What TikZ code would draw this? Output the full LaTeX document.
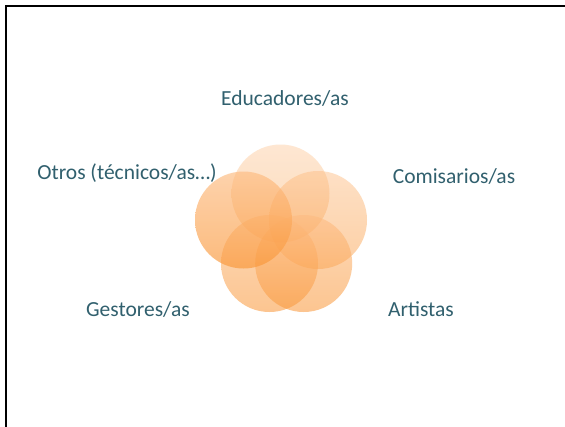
\documentclass[tikz,border=0pt]{standalone}
\usepackage{fontspec}
\setmainfont{Carlito}
\usepackage{tikz}
\usetikzlibrary{positioning}
\usepackage{xcolor}
\definecolor{labelteal}{HTML}{31606E}
\definecolor{petaltop}{HTML}{FDBB80}
\definecolor{petalbot}{HTML}{FA9636}
\tikzset{
  lab/.style={text=labelteal, font=\fontsize{21.5}{24}\selectfont, inner sep=0pt},
  petal/.style={top color=petaltop, bottom color=petalbot, fill opacity=#1, draw=none}
}

\begin{document}
\begin{tikzpicture}[x=1pt,y=-1pt]
\useasboundingbox (0,0) rectangle (565,426);
\fill[white] (0,0) rectangle (565,426);
% frame, cut by the page on the right and bottom
\draw[line width=2pt] (6,440)--(6,6)--(580,6);
% the five circles
\shade[petal=.35] (280.5,193.5) circle(49);
\shade[petal=.45] (318,220) circle(49);
\shade[petal=.55] (303.7,263.5) circle(48.5);
\shade[petal=.55] (269.5,263.5) circle(48.5);
\shade[petal=.65] (243.5,220) circle(48.5);
% labels
\node[lab] (edu) at (285,98) {Educadores/as};
\node[lab] (otr) at (127,173) {Otros (técnicos/as…)};
\node[lab] (com) at (454,176) {Comisarios/as};
\node[lab] (art) at (421,309) {Artistas};
\node[lab] (ges) at (138,309) {Gestores/as};
\end{tikzpicture}
\end{document}
